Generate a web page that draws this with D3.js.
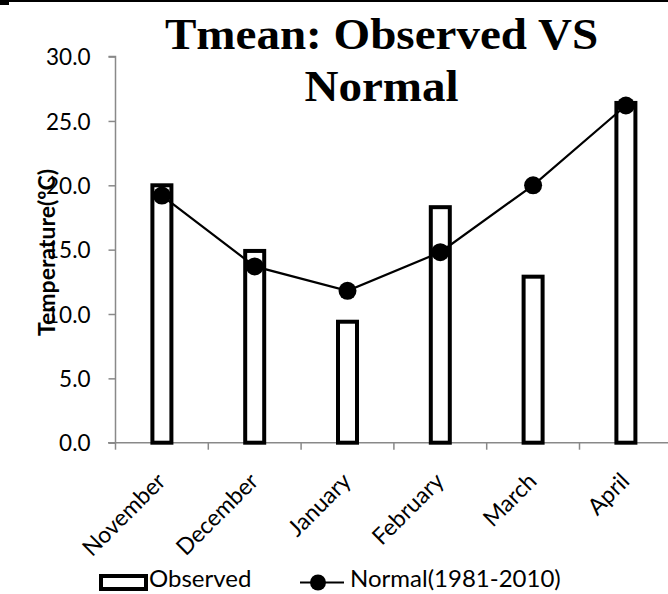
<!DOCTYPE html>
<html><head><meta charset="utf-8">
<script src="https://cdn.jsdelivr.net/npm/d3@7"></script>
<style>body{margin:0;background:#fff}svg{display:block}</style>
</head><body>
<svg id="c" width="668" height="594"></svg>
<script>
const categories = ["November","December","January","February","March","April"];
const observed = [20.0, 14.9, 9.4, 18.3, 12.9, 26.4];
const normal = [19.2, 13.7, 11.8, 14.8, 20.0, 26.2];
const yTicks = [0,5,10,15,20,25,30];
const titleLines = ["Tmean: Observed VS","Normal"];
const yTitle = "Temperature(ºC)";
const legendLabels = ["Observed","Normal(1981-2010)"];

const svg = d3.select("#c");
const font = "Lato, 'Open Sans', sans-serif";
const x = d3.scaleBand().domain(categories).range([115.5, 115.5 + 6*92.8]).padding(0);
const y = d3.scaleLinear().domain([0,30]).range([442.7, 56.6]);
const axisColor = "#898989";

// top border
svg.append("line").attr("x1",0).attr("x2",668).attr("y1",1).attr("y2",1).attr("stroke","#000").attr("stroke-width",2);
svg.append("rect").attr("x",0).attr("y",0).attr("width",9).attr("height",5).attr("fill","#000");

// y axis
const yAxis = svg.append("g").attr("transform","translate(115.5,0)")
  .call(d3.axisLeft(y).tickValues(yTicks).tickFormat(d3.format(".1f")).tickSize(7).tickPadding(18));
yAxis.select(".domain").attr("stroke",axisColor).attr("stroke-width",1.5).attr("d",`M-7,${y(30)}H0V${y(0)}`);
yAxis.selectAll(".tick line").attr("stroke",axisColor).attr("stroke-width",1.5);
yAxis.selectAll(".tick text").attr("font-family",font).attr("font-size",22.5).attr("fill","#000").attr("dy","0.36em");

// x axis
const xAxisG = svg.append("g").attr("transform",`translate(0,${y(0)})`);
xAxisG.append("line").attr("x1",108).attr("x2",668).attr("y1",0).attr("y2",0).attr("stroke",axisColor).attr("stroke-width",1.5);
xAxisG.selectAll(".tk").data(categories).enter().append("line")
  .attr("x1",d=>x(d)).attr("x2",d=>x(d)).attr("y1",0).attr("y2",7).attr("stroke",axisColor).attr("stroke-width",1.5);
xAxisG.selectAll(".lbl").data(categories).enter().append("text")
  .attr("transform",d=>`translate(${x(d)+x.bandwidth()/2+5},${40}) rotate(-45)`)
  .attr("text-anchor","end").attr("font-family",font).attr("font-size",23).attr("fill","#000").text(d=>d);

// bars
const bw = 19;
svg.append("g").selectAll("rect").data(categories).enter().append("rect")
  .attr("x",d=>x(d)+x.bandwidth()/2-bw/2).attr("width",bw)
  .attr("y",(d,i)=>y(observed[i])).attr("height",(d,i)=>y(0)-y(observed[i]))
  .attr("fill","#fff").attr("stroke","#000").attr("stroke-width",4);

// line
const line = d3.line().x((d,i)=>x(categories[i])+x.bandwidth()/2).y(d=>y(d));
svg.append("path").datum(normal).attr("d",line).attr("fill","none").attr("stroke","#000").attr("stroke-width",2.2);
svg.append("g").selectAll("circle").data(normal).enter().append("circle")
  .attr("cx",(d,i)=>x(categories[i])+x.bandwidth()/2).attr("cy",d=>y(d)).attr("r",9).attr("fill","#000");

// title
const tg = svg.append("g").attr("transform","translate(381.5,0) scale(1.07,1)");
tg.append("text").attr("text-anchor","middle")
  .attr("font-family","'Liberation Serif','Times New Roman',serif").attr("font-weight","bold").attr("font-size",44)
  .selectAll("tspan").data(titleLines).enter().append("tspan").attr("x",0).attr("y",(d,i)=>49+i*52).text(d=>d);

// y title
svg.append("text").attr("transform","translate(55,252.5) rotate(-90)").attr("text-anchor","middle")
  .attr("font-family",font).attr("font-weight","bold").attr("font-size",23).attr("fill","#000").text(yTitle);

// legend
const lg = svg.append("g");
lg.append("rect").attr("x",101).attr("y",576).attr("width",45).attr("height",13).attr("fill","#fff").attr("stroke","#000").attr("stroke-width",4);
lg.append("text").attr("x",149).attr("y",587).attr("font-family",font).attr("font-size",24).text(legendLabels[0]);
lg.append("line").attr("x1",300).attr("x2",344).attr("y1",582.5).attr("y2",582.5).attr("stroke","#000").attr("stroke-width",2.2);
lg.append("circle").attr("cx",318).attr("cy",582.5).attr("r",8).attr("fill","#000");
lg.append("text").attr("x",350).attr("y",587).attr("font-family",font).attr("font-size",24).text(legendLabels[1]);
</script>
</body></html>
